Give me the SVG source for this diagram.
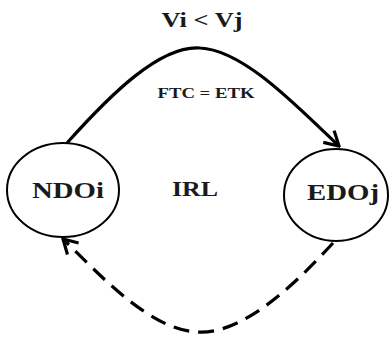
<svg xmlns="http://www.w3.org/2000/svg" width="389" height="341" viewBox="0 0 389 341">
<style>
.node{fill:#fff;stroke:#000;stroke-width:2}
.lbl{font-weight:bold;fill:#1a1a1a;text-anchor:middle}
.edge{fill:none;stroke:#000;stroke-width:3.2;stroke-linecap:butt}
</style>
<defs>
<marker id="arr" viewBox="0 0 20 20" refX="18" refY="10" markerWidth="20" markerHeight="20" markerUnits="userSpaceOnUse" orient="auto">
<path d="M4,2 L18,10 L4,18" fill="none" stroke="#000" stroke-width="3.2"/>
</marker>
</defs>
<rect width="389" height="341" fill="#fff"/>
<g id="connectors">
<path class="edge" d="M67,143 C110,95 160,45 200,48 C245,50 300,110 339,146" marker-end="url(#arr)"/>
<path class="edge" stroke-dasharray="16,9" d="M333,243 C290,290 240,335 197,332 C150,330 100,275 63,239" marker-end="url(#arr)"/>
</g>
<g font-family="Liberation Serif, DejaVu Serif, serif">
<g id="NDOi">
<ellipse class="node" cx="63" cy="190" rx="56" ry="47"/>
<text class="lbl" x="68" y="198" font-size="24" textLength="72" lengthAdjust="spacingAndGlyphs">NDOi</text>
</g>
<g id="EDOj">
<ellipse class="node" cx="336" cy="195" rx="52" ry="46"/>
<text class="lbl" x="343" y="200" font-size="24" textLength="72" lengthAdjust="spacingAndGlyphs">EDOj</text>
</g>
<text class="lbl" x="195" y="196" font-size="22" textLength="46" lengthAdjust="spacingAndGlyphs">IRL</text>
<text class="lbl" x="202" y="27" font-size="22" textLength="81" lengthAdjust="spacingAndGlyphs">Vi &lt; Vj</text>
<text class="lbl" x="206" y="98" font-size="15" textLength="97" lengthAdjust="spacingAndGlyphs">FTC = ETK</text>
</g>
</svg>
